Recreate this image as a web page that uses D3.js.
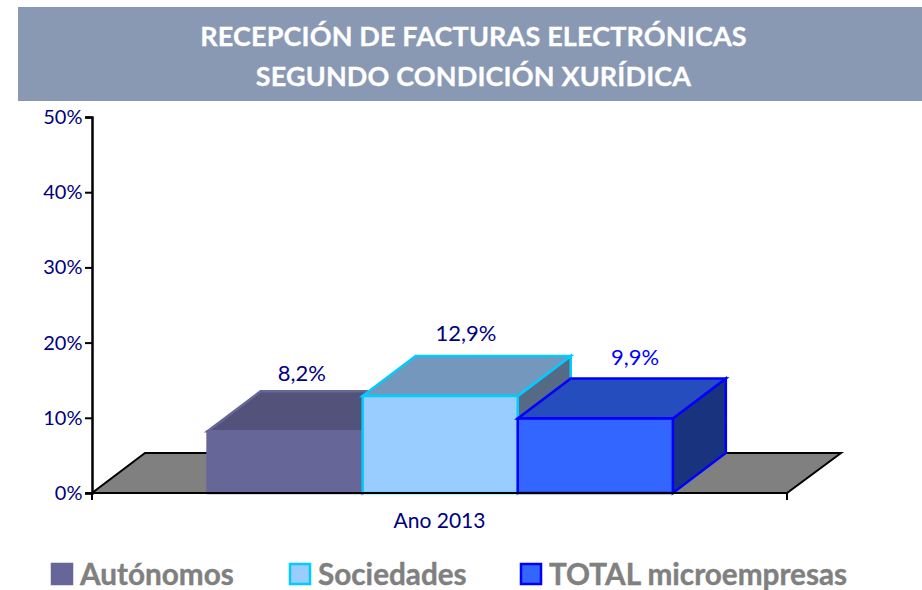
<!DOCTYPE html>
<html>
<head>
<meta charset="utf-8">
<script src="https://d3js.org/d3.v7.min.js"></script>
<style>
  html, body { margin: 0; padding: 0; background: #fff; }
  svg { display: block; }
  text { font-family: Lato, "Open Sans", sans-serif; }
</style>
</head>
<body>
<svg width="922" height="590"></svg>
<script>
var titleLines = ["RECEPCIÓN DE FACTURAS ELECTRÓNICAS", "SEGUNDO CONDICIÓN XURÍDICA"];
var categories = ["Ano 2013"];
var seriesNames = ["Autónomos", "Sociedades", "TOTAL microempresas"];
var seriesValues = [8.2, 12.9, 9.9];
var valueLabels = ["8,2%", "12,9%", "9,9%"];
var yTicks = [0, 10, 20, 30, 40, 50];

var fills = ["#666699", "#99ccff", "#3366ff"];
var tops = ["#52527a", "#7397bd", "#264dbd"];
var sides = ["#3d3d5c", "#546a85", "#1a337f"];
var strokes = ["#666699", "#00ccff", "#0000ff"];
var labelColors = ["#000080", "#000080", "#0000ff"];

function main() {
    var svg = d3.select("svg");
    var navy = "#000080";
    var depthX = 53, depthY = 40;
    // the labels sit at different spots above each bar in the original
    var labelShift = [17.5, 26.5, 40.5];
    var labelRise = [10.3, 15.3, 13.6];

    svg.append("rect")
       .attr("x", 18).attr("y", 7)
       .attr("width", 904).attr("height", 94)
       .attr("fill", "#8a99b3");

    svg.selectAll(".title")
       .data(titleLines)
       .enter().append("text")
       .attr("class", "title")
       .attr("x", 473.5)
       .attr("y", function(d, i) { return 46 + i * 39.5; })
       .attr("text-anchor", "middle")
       .attr("font-size", "27px")
       .attr("font-weight", "bold")
       .attr("letter-spacing", "0.15px")
       .attr("stroke", "#fff")
       .attr("stroke-width", 0.3)
       .attr("fill", "#fff")
       .text(function(d) { return d; });

    var xCat = d3.scaleBand().domain(categories).range([92, 787]).padding(0.198);
    var xBar = d3.scaleBand().domain(seriesNames).range([xCat(categories[0]) + 0.7, xCat(categories[0]) + xCat.bandwidth() + 0.7]);
    var yScale = d3.scaleLinear().domain([0, 50]).range([493, 117]);

    // floor of the 3d plot
    svg.append("path")
       .attr("d", d3.line()([[92, 493], [92 + depthX, 453], [787 + 54, 453], [787, 493]]) + "Z")
       .attr("fill", "#808080")
       .attr("stroke", "#000")
       .attr("stroke-width", 2);

    // axes
    var yAxis = svg.append("g")
       .attr("transform", "translate(92,0)")
       .call(d3.axisLeft(yScale).tickValues(yTicks).tickSize(7).tickFormat(function(d) { return d + "%"; }));
    yAxis.select(".domain").attr("stroke", "#000").attr("stroke-width", 2.5);
    yAxis.selectAll(".tick line").attr("stroke", "#000").attr("stroke-width", 2);
    yAxis.selectAll(".tick text")
       .attr("font-family", "Lato")
       .attr("font-size", "20px")
       .attr("fill", navy)
       .attr("x", -9.5);

    var bars = svg.selectAll(".bar")
       .data(seriesValues)
       .enter().append("g")
       .attr("class", "bar");

    function corners(d, i) {
        return {
            l: xBar(seriesNames[i]),
            r: xBar(seriesNames[i]) + xBar.bandwidth(),
            t: yScale(d),
            b: yScale(0)
        };
    }

    bars.append("path")
       .attr("d", function(d, i) {
           var c = corners(d, i);
           return d3.line()([[c.r, c.t], [c.r + depthX, c.t - depthY], [c.r + depthX, c.b - depthY], [c.r, c.b]]) + "Z";
       })
       .attr("fill", function(d, i) { return sides[i]; })
       .attr("stroke", function(d, i) { return strokes[i]; })
       .attr("stroke-width", 2.5);

    bars.append("path")
       .attr("d", function(d, i) {
           var c = corners(d, i);
           return d3.line()([[c.l, c.t], [c.l + depthX, c.t - depthY], [c.r + depthX, c.t - depthY], [c.r, c.t]]) + "Z";
       })
       .attr("fill", function(d, i) { return tops[i]; })
       .attr("stroke", function(d, i) { return strokes[i]; })
       .attr("stroke-width", 2.5);

    bars.append("rect")
       .attr("x", function(d, i) { return xBar(seriesNames[i]); })
       .attr("y", function(d) { return yScale(d); })
       .attr("width", xBar.bandwidth())
       .attr("height", function(d) { return yScale(0) - yScale(d); })
       .attr("fill", function(d, i) { return fills[i]; })
       .attr("stroke", function(d, i) { return strokes[i]; })
       .attr("stroke-width", 2.5);

    // base line goes over the bars, the ticks close it at both ends
    svg.append("line")
       .attr("x1", 85).attr("x2", 787)
       .attr("y1", 493).attr("y2", 493)
       .attr("stroke", "#000").attr("stroke-width", 2);
    svg.selectAll(".xtick")
       .data([92, 787])
       .enter().append("line")
       .attr("class", "xtick")
       .attr("x1", function(d) { return d; }).attr("x2", function(d) { return d; })
       .attr("y1", 493).attr("y2", 500)
       .attr("stroke", "#000").attr("stroke-width", 2);

    bars.append("text")
       .attr("x", function(d, i) { return xBar(seriesNames[i]) + xBar.bandwidth() / 2 + labelShift[i] - 0.7; })
       .attr("y", function(d, i) { return yScale(d) - depthY - labelRise[i]; })
       .attr("text-anchor", "middle")
       .attr("font-size", "22px")
       .attr("fill", function(d, i) { return labelColors[i]; })
       .text(function(d, i) { return valueLabels[i]; });

    svg.append("text")
       .attr("x", xCat(categories[0]) + xCat.bandwidth() / 2)
       .attr("y", 528)
       .attr("text-anchor", "middle")
       .attr("font-size", "21px")
       .attr("fill", navy)
       .text(categories[0]);

    // legend
    var legendX = [52, 290, 521];
    var legend = svg.selectAll(".legend")
       .data(seriesNames)
       .enter().append("g")
       .attr("class", "legend")
       .attr("transform", function(d, i) { return "translate(" + legendX[i] + ",564)"; });

    legend.append("rect")
       .attr("width", 20).attr("height", 20)
       .attr("fill", function(d, i) { return fills[i]; })
       .attr("stroke", function(d, i) { return strokes[i]; })
       .attr("stroke-width", 2.5);

    legend.append("text")
       .attr("x", 28)
       .attr("y", 21)
       .attr("font-size", "29.7px")
       .attr("font-weight", "bold")
       .attr("stroke", "#808080")
       .attr("stroke-width", 0.4)
       .attr("fill", "#808080")
       .text(function(d) { return d; });
}
main();
</script>
</body>
</html>
